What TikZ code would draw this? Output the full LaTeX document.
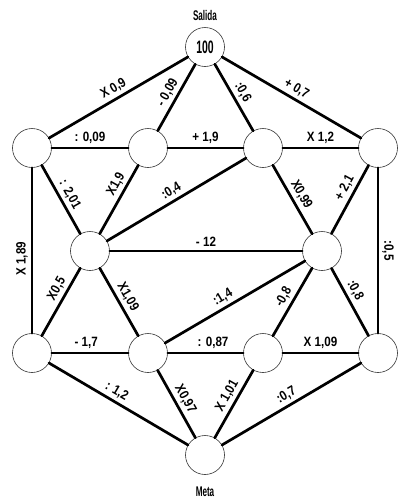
\documentclass[tikz,border=0pt]{standalone}
\usepackage{fontspec}
\setmainfont{Liberation Sans}
\newfontfamily\lblfont[FakeStretch=0.86]{Liberation Sans}
\newfontfamily\narrowfont[FakeStretch=0.58]{Liberation Sans}
\begin{document}
\begin{tikzpicture}[x=1pt,y=-1pt,
  station/.style={circle,draw=black!80,line width=0.6pt,fill=white,minimum size=39pt,inner sep=0pt,font=\narrowfont\bfseries\fontsize{18}{18}\selectfont},
  road/.style={line width=2.7pt,line cap=round},
  lbl/.style={sloped,above,inner sep=3pt,font=\lblfont\bfseries\fontsize{13.5}{13.5}\selectfont},
  captxt/.style={font=\narrowfont\bfseries\fontsize{14}{14}\selectfont}]
\useasboundingbox (0,0) rectangle (410,504);
% nodes
\node[station] (S) at (205,47) {100};
\node[station] (A1) at (32,148) {};
\node[station] (A2) at (148,148) {};
\node[station] (A3) at (263,148) {};
\node[station] (A4) at (378,148) {};
\node[station] (B1) at (90,251) {};
\node[station] (B2) at (322,251) {};
\node[station] (C1) at (32,353) {};
\node[station] (C2) at (148,353) {};
\node[station] (C3) at (263,353) {};
\node[station] (C4) at (378,353) {};
\node[station] (M) at (205,455) {};
\node[captxt] (sal) at (205,15) {Salida};
\node[captxt] (met) at (205,492) {Meta};
% edges
\draw[road] (A1) -- node[lbl] {X 0,9} (S);
\draw[road] (A2) -- node[lbl] {- 0,09} (S);
\draw[road] (S) -- node[lbl] {:0,6} (A3);
\draw[road] (S) -- node[lbl] {+ 0,7} (A4);
\draw[road] (A1) -- node[lbl] {: 0,09} (A2);
\draw[road] (A2) -- node[lbl] {+ 1,9} (A3);
\draw[road] (A3) -- node[lbl] {X 1,2} (A4);
\draw[road] (A1) -- node[lbl] {: 2,01} (B1);
\draw[road] (B1) -- node[lbl,pos=0.65] {X1,9} (A2);
\draw[road] (B1) -- node[lbl] {:0,4} (A3);
\draw[road] (A3) -- node[lbl] {X0,99} (B2);
\draw[road] (B2) -- node[lbl,pos=0.6] {+ 2,1} (A4);
\draw[road] (C1) -- node[lbl,pos=0.45] {X 1,89} (A1);
\draw[road] (A4) -- node[lbl] {:0,5} (C4);
\draw[road] (B1) -- node[lbl] {- 12} (B2);
\draw[road] (C1) -- node[lbl,pos=0.62] {X0,5} (B1);
\draw[road] (B1) -- node[lbl] {X1,09} (C2);
\draw[road] (C2) -- node[lbl,pos=0.45] {:1,4} (B2);
\draw[road] (C3) -- node[lbl] {-0,8} (B2);
\draw[road] (B2) -- node[lbl,pos=0.4] {:0,8} (C4);
\draw[road] (C1) -- node[lbl,pos=0.45] {- 1,7} (C2);
\draw[road] (C2) -- node[lbl,pos=0.6] {: 0,87} (C3);
\draw[road] (C3) -- node[lbl] {X 1,09} (C4);
\draw[road] (C1) -- node[lbl,pos=0.45] {: 1,2} (M);
\draw[road] (C2) -- node[lbl] {X0,97} (M);
\draw[road] (M) -- node[lbl,pos=0.55] {X 1,01} (C3);
\draw[road] (M) -- node[lbl] {:0,7} (C4);
\end{tikzpicture}
\end{document}
